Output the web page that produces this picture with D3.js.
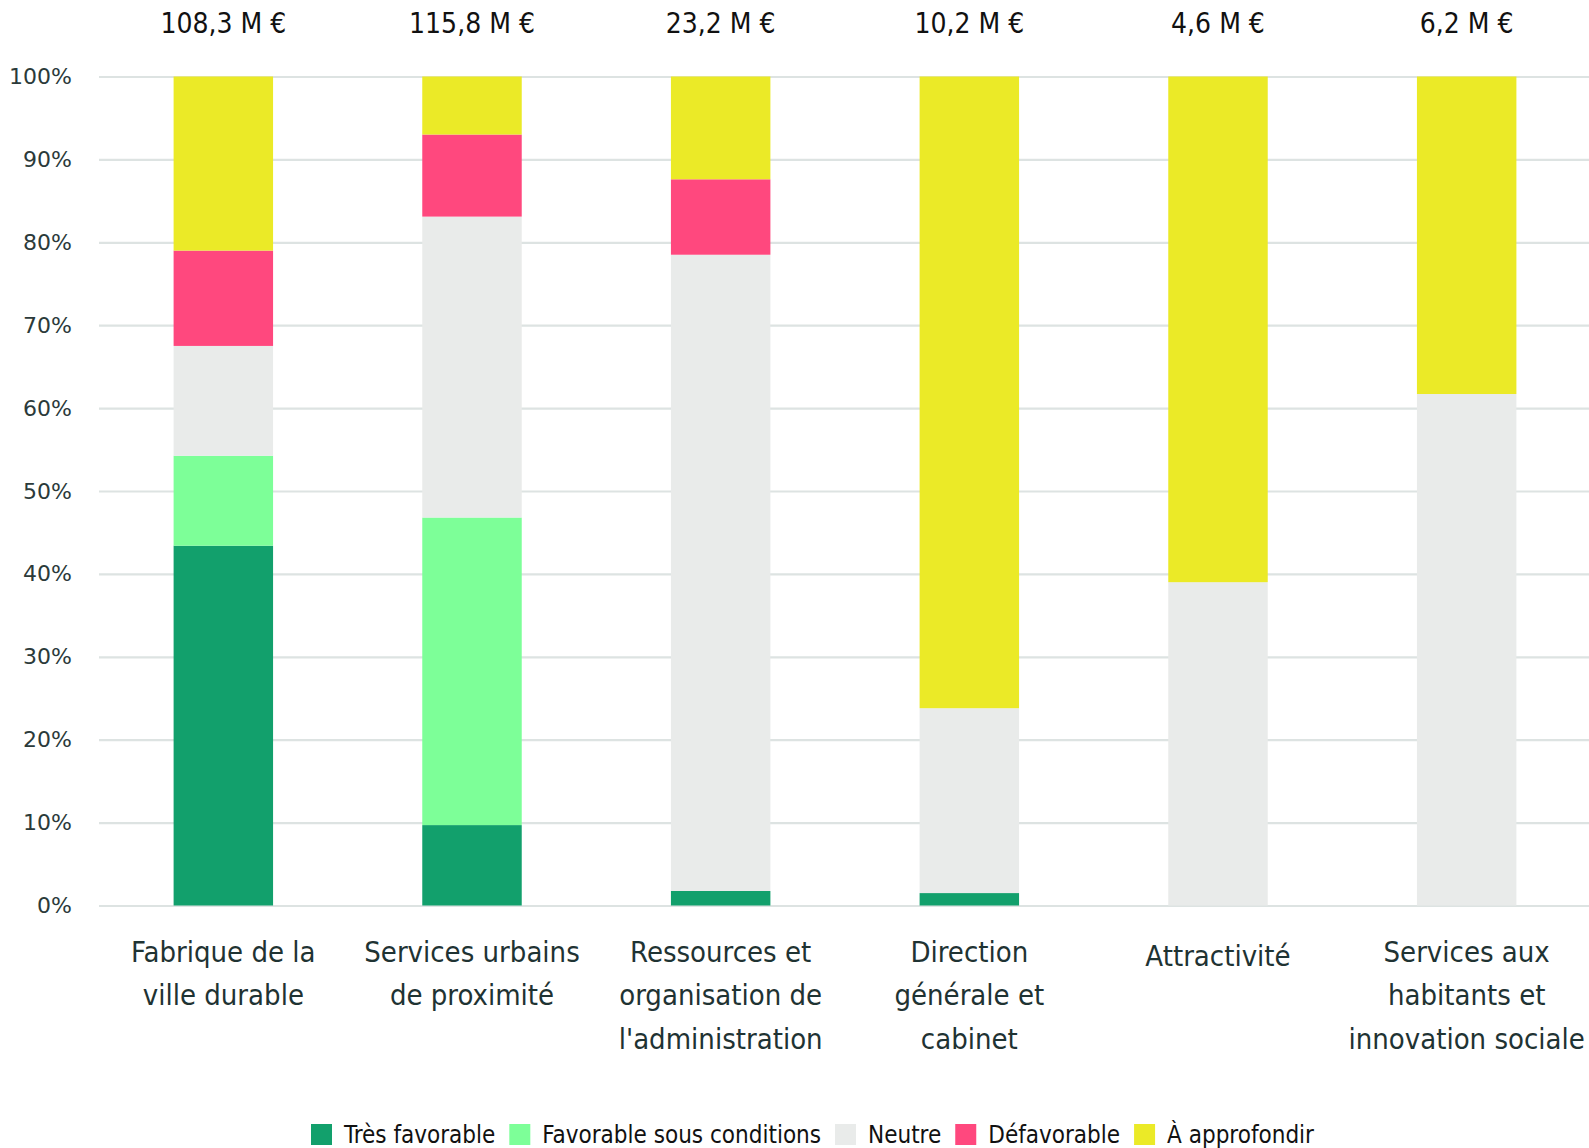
<!DOCTYPE html>
<html>
<head>
<meta charset="utf-8">
<script src="https://cdn.jsdelivr.net/npm/d3@7"></script>
<style>
  body { margin: 0; background: #fff; }
  svg { display: block; }
</style>
</head>
<body>
<svg width="1589" height="1148"></svg>
<script>
// categories (one entry per line of the label)
var categories = [
    ["Fabrique de la", "ville durable"],
    ["Services urbains", "de proximité"],
    ["Ressources et", "organisation de", "l'administration"],
    ["Direction", "générale et", "cabinet"],
    ["Attractivité"],
    ["Services aux", "habitants et", "innovation sociale"]
];
var totals = ["108,3 M €", "115,8 M €", "23,2 M €", "10,2 M €", "4,6 M €", "6,2 M €"];

// shares in %
var tresFavorable = [43.4, 9.7, 1.75, 1.5, 0, 0];
var favorable = [10.85, 37.1, 0, 0, 0, 0];
var neutre = [13.25, 36.3, 76.75, 22.3, 39.0, 61.7];
var defavorable = [11.5, 9.9, 9.1, 0, 0, 0];
var approfondir = [21.0, 7.0, 12.4, 76.2, 61.0, 38.3];

var seriesNames = ["Très favorable", "Favorable sous conditions", "Neutre", "Défavorable", "À approfondir"];
var colors = ["#12a06c", "#7dff98", "#e9ebea", "#ff487e", "#ebea27"];

var yTicks = [0, 10, 20, 30, 40, 50, 60, 70, 80, 90, 100];
var yTickLabels = ["0%", "10%", "20%", "30%", "40%", "50%", "60%", "70%", "80%", "90%", "100%"];

var svg = d3.select("svg"),
    margin = {top: 76.5, right: 0, bottom: 242.5, left: 99},
    width = +svg.attr("width") - margin.left - margin.right,
    height = +svg.attr("height") - margin.top - margin.bottom;

// build rows for d3.stack
var keys = ["tf", "fav", "neu", "def", "app"];
var data = categories.map(function (c, i) {
    return {
        i: i,
        tf: tresFavorable[i],
        fav: favorable[i],
        neu: neutre[i],
        def: defavorable[i],
        app: approfondir[i]
    };
});

var x = d3.scaleBand()
    .domain(d3.range(categories.length))
    .range([0, width + 2])
    .paddingInner(0.6)
    .paddingOuter(0.3);

var y = d3.scaleLinear().domain([0, 100]).range([height, 0]);

var g = svg.append("g")
    .attr("transform", "translate(" + margin.left + "," + margin.top + ")");

// gridlines + labels
var yAxis = g.append("g")
    .attr("class", "axis axis--y")
    .call(d3.axisLeft(y)
        .tickValues(yTicks)
        .tickSize(-width)
        .tickPadding(27)
        .tickFormat(function (d, i) { return yTickLabels[i]; }));
yAxis.select(".domain").remove();
yAxis.selectAll(".tick line")
    .attr("stroke", "#dde3e2")
    .attr("stroke-width", 2.2);
yAxis.selectAll(".tick text")
    .attr("fill", "#2b3a3a")
    .style("font-family", "'DejaVu Sans', sans-serif")
    .style("font-size", "22px");

var stack = d3.stack().keys(keys);

g.selectAll(".serie")
    .data(stack(data))
    .enter().append("g")
    .attr("class", "serie")
    .attr("fill", function (d, i) { return colors[i]; })
    .selectAll("rect")
    .data(function (d) { return d; })
    .enter().append("rect")
    .attr("x", function (d) { return x(d.data.i); })
    .attr("y", function (d) { return y(d[1]); })
    .attr("width", x.bandwidth())
    .attr("height", function (d) { return y(d[0]) - y(d[1]); });

// totals above the bars
g.selectAll(".total")
    .data(totals)
    .enter().append("text")
    .attr("class", "total")
    .attr("x", function (d, i) { return x(i) + x.bandwidth() / 2; })
    .attr("y", -44)
    .attr("text-anchor", "middle")
    .style("font-family", "'DejaVu Sans Condensed', 'DejaVu Sans', sans-serif")
    .style("font-size", "28px")
    .attr("fill", "#111")
    .text(function (d) { return d; });

// category labels under the axis
var labels = g.selectAll(".cat")
    .data(categories)
    .enter().append("text")
    .attr("class", "cat")
    .attr("text-anchor", "middle")
    .attr("fill", "#1f3333")
    .style("font-family", "'DejaVu Sans Condensed', 'DejaVu Sans', sans-serif")
    .style("font-size", "29px")
    .attr("transform", function (d, i) {
        return "translate(" + (x(i) + x.bandwidth() / 2) + "," + (height + (d.length == 1 ? 60 : 56)) + ")";
    });
labels.selectAll("tspan")
    .data(function (d) { return d; })
    .enter().append("tspan")
    .attr("x", 0)
    .attr("y", function (d, j) { return j * 43.5; })
    .text(function (d) { return d; });

// legend
var legend = svg.append("g").attr("transform", "translate(311,1124)");
var lx = 0;
seriesNames.forEach(function (name, i) {
    var item = legend.append("g").attr("transform", "translate(" + lx + ",0)");
    item.append("rect")
        .attr("width", 21)
        .attr("height", 21)
        .attr("fill", colors[i]);
    var t = item.append("text")
        .attr("x", 33)
        .attr("y", 19)
        .attr("fill", "#111")
        .style("font-family", "'DejaVu Sans Condensed', 'DejaVu Sans', sans-serif")
        .style("font-size", "24px")
        .text(name);
    lx += 33 + t.node().getComputedTextLength() + 14;
});
</script>
</body>
</html>
